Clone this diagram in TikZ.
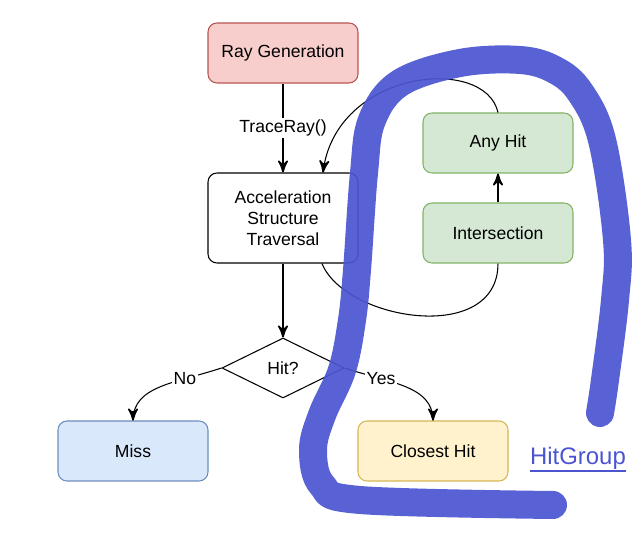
\documentclass[tikz,border=0pt]{standalone}
\usepackage{fontspec}
\setmainfont{Liberation Sans}
\usepackage{tikz}
\usetikzlibrary{arrows}
\usetikzlibrary{decorations.markings}
\usetikzlibrary{shapes.geometric}
\definecolor{genfill}{HTML}{F8CECC}
\definecolor{gendraw}{HTML}{B85450}
\definecolor{missfill}{HTML}{DAE8FC}
\definecolor{missdraw}{HTML}{6C8EBF}
\definecolor{closefill}{HTML}{FFF2CC}
\definecolor{closedraw}{HTML}{D6B656}
\definecolor{hitfill}{HTML}{D5E8D4}
\definecolor{hitdraw}{HTML}{82B366}
\definecolor{marker}{HTML}{4B55D0}
\tikzset{->/.style = {decoration={markings,
                                  mark=at position 0.9999 with {\arrow[scale=1.6]{stealth'}}},
                      postaction={decorate}}}
\tikzset{box/.style = {draw, rounded corners = 0.18cm, line width = 0.6pt,
                       minimum width = 3cm, minimum height = 1.2cm,
                       align = center, font = \fontsize{10}{12}\selectfont}}
\tikzset{lbl/.style = {fill = white, inner sep = 1pt, font = \fontsize{10}{12}\selectfont}}

\begin{document}
\begin{tikzpicture}[line width = 0.6pt]
    \useasboundingbox (0, 0) rectangle (12.86, 11);

    \node [box, fill = genfill, draw = gendraw] (raygen) at (5.66, 9.94) {Ray Generation};
    \node [box, minimum height = 1.8cm] (traversal) at (5.66, 6.64) {Acceleration\\Structure\\Traversal};
    \node [draw, diamond, aspect = 2, inner sep = 0, minimum width = 2.44cm, minimum height = 1.2cm,
           font = \fontsize{10}{12}\selectfont] (hit) at (5.66, 3.64) {Hit?};
    \node [box, fill = missfill, draw = missdraw] (miss) at (2.66, 1.98) {Miss};
    \node [box, fill = closefill, draw = closedraw] (closest) at (8.66, 1.98) {Closest Hit};
    \node [box, fill = hitfill, draw = hitdraw] (isect) at (9.96, 6.34) {Intersection};
    \node [box, fill = hitfill, draw = hitdraw] (anyhit) at (9.96, 8.14) {Any Hit};

    \draw [->] (raygen) -- node [lbl] {TraceRay()} (traversal);
    \draw [->] (traversal) -- (hit);
    \draw [->] (hit.west) .. controls +(-0.9, -0.3) and +(0, 0.7) .. node [lbl, pos = 0.28] {No} (miss.north);
    \draw [->] (hit.east) .. controls +(0.9, -0.3) and +(0, 0.7) .. node [lbl, pos = 0.28] {Yes} (closest.north);
    \draw [->] ([xshift = 0.78cm]traversal.south) .. controls +(0.46, -1.14) and +(0, -1.64) .. (isect.south);
    \draw [->] (isect) -- (anyhit);
    \draw [->] (anyhit.north) .. controls +(-0.26, 1.16) and +(0.24, 2.06) .. ([xshift = 0.8cm]traversal.north);

    % hand drawn marker round the hit group
    \draw [marker, opacity = 0.92, line width = 0.56cm, line cap = round, line join = round]
        plot [smooth, tension = 0.6] coordinates {(11.06, 0.9) (7.2, 1.0) (6.44, 1.3) (6.26, 2.0) (6.44, 2.7)
        (6.84, 3.6) (7.04, 4.6) (7.14, 5.6) (7.28, 7.54) (7.44, 8.6) (8.0, 9.34) (9.2, 9.74) (10.4, 9.8)
        (11.1, 9.6) (11.6, 9.16) (12.04, 8.2) (12.34, 6.2) (12.3, 5.0) (12.1, 3.4) (12.0, 2.74)};

    \node [anchor = base, inner sep = 0, text = marker, font = \fontsize{13.6}{16}\selectfont] (hitgroup) at (11.56, 1.7) {HitGroup};
    \draw [marker, line width = 1.1pt] ([yshift = -3.4pt]hitgroup.base west) -- ([yshift = -3.4pt]hitgroup.base east);
\end{tikzpicture}
\end{document}
